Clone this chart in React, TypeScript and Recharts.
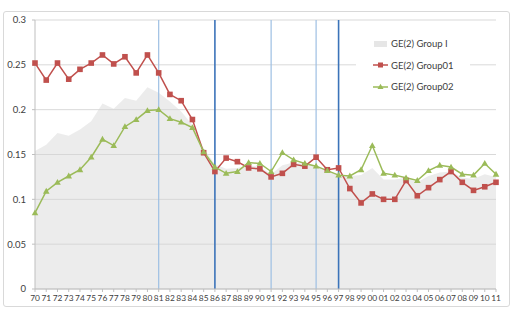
import {
  ComposedChart,
  Area,
  Line,
  XAxis,
  YAxis,
  CartesianGrid,
  ReferenceLine,
} from 'recharts'

const years = [
  '70', '71', '72', '73', '74', '75', '76', '77', '78', '79',
  '80', '81', '82', '83', '84', '85', '86', '87', '88', '89',
  '90', '91', '92', '93', '94', '95', '96', '97', '98', '99',
  '00', '01', '02', '03', '04', '05', '06', '07', '08', '09', '10', '11',
]

const groupI = [
  0.154, 0.161, 0.174, 0.171, 0.178, 0.187, 0.207, 0.201, 0.213, 0.21,
  0.225, 0.219, 0.209, 0.198, 0.183, 0.157, 0.139, 0.134, 0.135, 0.138,
  0.136, 0.128, 0.138, 0.141, 0.139, 0.138, 0.132, 0.128, 0.126, 0.127,
  0.135, 0.122, 0.122, 0.124, 0.119, 0.126, 0.13, 0.131, 0.124, 0.123, 0.128, 0.125,
]

const group01 = [
  0.252, 0.233, 0.252, 0.234, 0.245, 0.252, 0.261, 0.251, 0.259, 0.241,
  0.261, 0.241, 0.217, 0.21, 0.189, 0.152, 0.131, 0.146, 0.142, 0.135,
  0.134, 0.125, 0.129, 0.139, 0.137, 0.147, 0.133, 0.135, 0.112, 0.096,
  0.106, 0.1, 0.1, 0.121, 0.104, 0.113, 0.122, 0.131, 0.119, 0.11, 0.114, 0.119,
]

const group02 = [
  0.085, 0.109, 0.119, 0.126, 0.133, 0.147, 0.167, 0.16, 0.181, 0.189,
  0.199, 0.2, 0.19, 0.186, 0.18, 0.153, 0.136, 0.129, 0.131, 0.141,
  0.14, 0.131, 0.152, 0.144, 0.14, 0.137, 0.132, 0.127, 0.126, 0.133,
  0.16, 0.129, 0.127, 0.124, 0.121, 0.132, 0.138, 0.136, 0.128, 0.127, 0.14, 0.128,
]

const yTicks = [0, 0.05, 0.1, 0.15, 0.2, 0.25, 0.3]
const lightMarks = ['81', '91', '95']
const darkMarks = ['86', '97']

const RED = '#c0504d'
const GREEN = '#9bbb59'
const FONT = 'Lato, "Noto Sans", sans-serif'

const legendItems = [
  { key: 'groupI', label: 'GE(2) Group I' },
  { key: 'group01', label: 'GE(2) Group01' },
  { key: 'group02', label: 'GE(2) Group02' },
]

const data = years.map((y, i) => ({
  year: y,
  groupI: groupI[i],
  group01: group01[i],
  group02: group02[i],
}))

function SquareDot({ cx, cy }: any) {
  if (cx == null || cy == null) return null
  return <rect x={cx - 2.8} y={cy - 2.8} width={5.6} height={5.6} fill={RED} />
}

function TriangleDot({ cx, cy }: any) {
  if (cx == null || cy == null) return null
  return <path d={`M${cx},${cy - 3.4} L${cx + 3.3},${cy + 2.4} L${cx - 3.3},${cy + 2.4} Z`} fill={GREEN} />
}

function LegendIcon({ k }: { k: string }) {
  if (k === 'groupI') {
    return <rect x={18} y={2} width={13} height={6} fill="#e6e6e6" />
  }
  const color = k === 'group01' ? RED : GREEN
  return (
    <>
      <line x1={17} x2={32} y1={5} y2={5} stroke={color} strokeWidth={1.5} />
      {k === 'group01' ? (
        <rect x={22} y={2.5} width={5} height={5} fill={RED} />
      ) : (
        <path d="M24.5,1.8 L27.5,7 L21.5,7 Z" fill={GREEN} />
      )}
    </>
  )
}

// legend box sits over the plot, hiding the gridlines behind it
function LegendBox() {
  return (
    <div
      style={{
        position: 'absolute',
        left: 356,
        top: 27,
        width: 114,
        background: '#fff',
        paddingTop: 6,
        paddingBottom: 6,
      }}
    >
      {legendItems.map((it) => (
        <div
          key={it.key}
          style={{ display: 'flex', alignItems: 'center', height: 21.5, fontFamily: FONT, fontSize: 9.5, color: '#404040' }}
        >
          <svg width={34} height={10} style={{ display: 'block' }}>
            <LegendIcon k={it.key} />
          </svg>
          <span style={{ marginLeft: 1 }}>{it.label}</span>
        </div>
      ))}
    </div>
  )
}

export default function App() {
  return (
    <div style={{ position: 'absolute', left: 0, top: 0, width: 514, height: 309, background: '#fff' }}>
      <div
        style={{
          position: 'absolute',
          left: 3,
          top: 11,
          width: 505,
          height: 294,
          border: '1px solid #d9d9d9',
          borderRadius: 3,
        }}
      />
      <div style={{ position: 'absolute', left: 0, top: 0 }}>
        <ComposedChart width={514} height={309} data={data} margin={{ top: 20, right: 18, left: 0, bottom: 0 }}>
          <CartesianGrid vertical={false} stroke="#d9d9d9" />
          <XAxis
            dataKey="year"
            scale="point"
            padding={{ left: 0, right: 0 }}
            interval={0}
            height={20}
            tickSize={3}
            tickMargin={3}
            stroke="#bfbfbf"
            tick={{ fontSize: 8.4, fontFamily: FONT, fill: '#404040' }}
          />
          <YAxis
            domain={[0, 0.3]}
            ticks={yTicks}
            width={35}
            tickSize={3}
            tickMargin={6}
            stroke="#bfbfbf"
            tick={{ fontSize: 9.5, fontFamily: FONT, fill: '#404040' }}
          />
          <Area
            type="linear"
            dataKey="groupI"
            name="GE(2) Group I"
            fill="#d4d4d4"
            fillOpacity={0.45}
            stroke="none"
            isAnimationActive={false}
          />
          {lightMarks.map((m) => (
            <ReferenceLine key={m} x={m} stroke="#9dbfe3" strokeWidth={1.2} />
          ))}
          {darkMarks.map((m) => (
            <ReferenceLine key={m} x={m} stroke="#3b73b9" strokeWidth={1.6} />
          ))}
          <Line
            type="linear"
            dataKey="group01"
            name="GE(2) Group01"
            stroke={RED}
            strokeWidth={1.5}
            dot={<SquareDot />}
            activeDot={false}
            isAnimationActive={false}
          />
          <Line
            type="linear"
            dataKey="group02"
            name="GE(2) Group02"
            stroke={GREEN}
            strokeWidth={1.5}
            dot={<TriangleDot />}
            activeDot={false}
            isAnimationActive={false}
          />
        </ComposedChart>
      </div>
      <LegendBox />
    </div>
  )
}
